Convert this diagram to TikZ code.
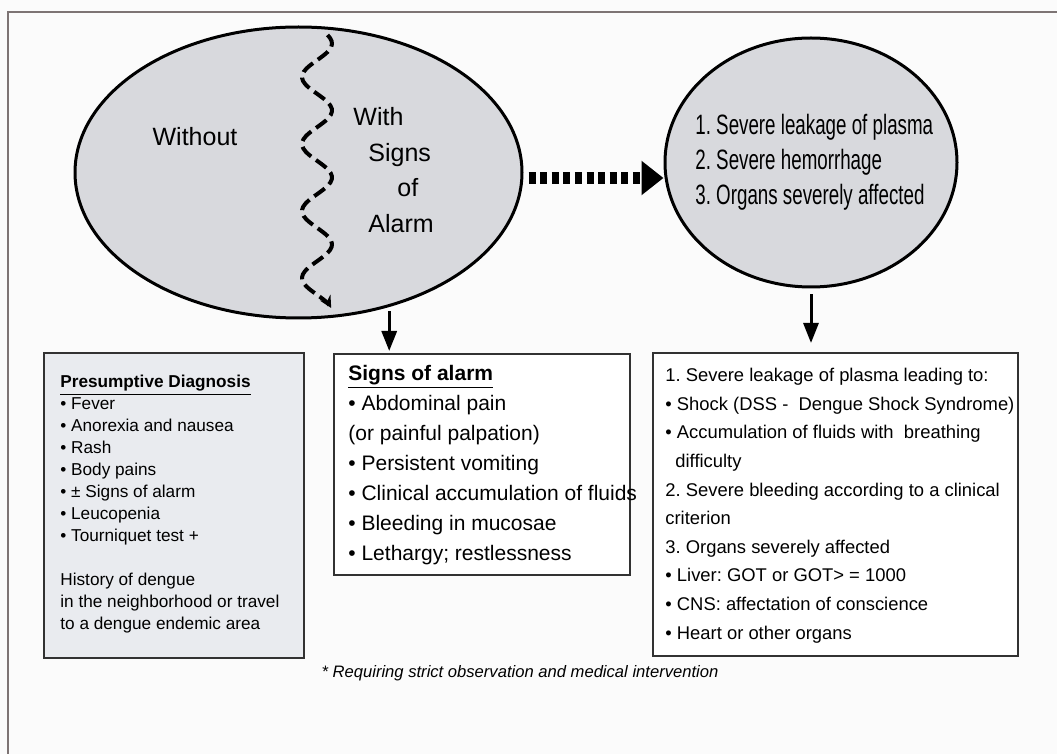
\documentclass[tikz,border=0pt]{standalone}
\usepackage{fontspec}
\setmainfont{Liberation Sans}
\newfontfamily\narrowfont[FakeStretch=0.67]{Liberation Sans}
\usetikzlibrary{positioning,arrows.meta,shapes.geometric}
\definecolor{Oval}{RGB}{216,217,221}
\definecolor{Pale}{RGB}{233,235,239}
\definecolor{Frame}{RGB}{125,116,116}
\definecolor{Edge}{RGB}{50,50,50}
\definecolor{Paper}{RGB}{251,251,251}
\frenchspacing

\begin{document}
\begin{tikzpicture}[x=.5pt,y=-.5pt,
 ov/.style={ellipse,draw,line width=1.5pt,fill=Oval,inner sep=0pt},
 bx/.style={draw=Edge,line width=1pt,anchor=north west,inner sep=0pt},
 tx/.style={anchor=north west,align=left,inner sep=0pt},
 ar/.style={-{Triangle[length=10pt,width=7.5pt]},line width=1.5pt},
 dt/.style={-{Triangle[length=11pt,width=16.5pt]},line width=6pt,dash pattern=on 3.5pt off 2.3pt},
 wv/.style={-{Stealth[length=6pt,width=6pt]},line width=2pt,dash pattern=on 6.5pt off 3pt}]
\useasboundingbox (0,0) rectangle (1057,754);
\fill[Paper] (0,0) rectangle (1057,754);
\draw[Frame,line width=1pt] (8,754) -- (8,12) -- (1057,12);
% ovals
\node[ov,minimum width=223.5pt,minimum height=145.5pt] (big) at (298.5,172.5) {};
\node[ov,minimum width=146pt,minimum height=124.5pt] (risk) at (811,162.5) {};
\draw[wv] plot[domain=35:308,samples=90,smooth] ({317-15*cos(5.373*(\x-77))},\x);
\node[font=\fontsize{12.5}{17.8}\selectfont] (without) at (195,137) {Without};
\node[tx,font=\fontsize{12.5}{17.8}\selectfont] (with) at (353,107)
  {With\\\hspace*{7.5pt}Signs\\\hspace*{22pt}of\\\hspace*{7.5pt}Alarm};
\node[tx,font=\narrowfont\fontsize{14}{17.5}\selectfont] (risktxt) at (695,114)
  {1. Severe leakage of plasma\\2. Severe hemorrhage\\3. Organs severely affected};
% boxes
\node[bx,fill=Pale,minimum width=130pt,minimum height=152.5pt] (diag) at (43,352) {};
\node[bx,fill=white,minimum width=148pt,minimum height=110.5pt] (sig) at (333,353) {};
\node[bx,fill=white,minimum width=182.5pt,minimum height=151.5pt] (sev) at (652,352) {};
\node[tx,font=\fontsize{8.6}{11}\selectfont] (diagtxt) at (60,375)
  {\underline{\textbf{Presumptive Diagnosis}}\\
   • Fever\\• Anorexia and nausea\\• Rash\\• Body pains\\• ± Signs of alarm\\
   • Leucopenia\\• Tourniquet test +\\[11pt]
   History of dengue\\in the neighborhood or travel\\to a dengue endemic area};
\node[tx,font=\fontsize{10.5}{15}\selectfont] (sigtxt) at (348,365)
  {\underline{\textbf{Signs of alarm}}\\
   • Abdominal pain\\(or painful palpation)\\• Persistent vomiting\\
   • Clinical accumulation of fluids\\• Bleeding in mucosae\\• Lethargy; restlessness};
\node[tx,font=\fontsize{9.2}{14.3}\selectfont] (sevtxt) at (665,368)
  {1. Severe leakage of plasma leading to:\\
   • Shock (DSS - \ Dengue Shock Syndrome)\\
   • Accumulation of fluids with \ breathing\\
   \hspace*{5pt}difficulty\\
   2. Severe bleeding according to a clinical\\criterion\\
   3. Organs severely affected\\
   • Liver: GOT or GOT> = 1000\\
   • CNS: affectation of conscience\\
   • Heart or other organs};
\node[font=\itshape\fontsize{8.3}{10}\selectfont] (note) at (520,673)
  {* Requiring strict observation and medical intervention};
% arrows
\draw[dt,shorten <=2.5pt] ([yshift=-2.75pt]big.east) -- ([yshift=-7.75pt]risk.west);
\draw[ar,shorten <=2pt,shorten >=1pt] (big.-56) -- (big.-56 |- sig.north);
\draw[ar,shorten <=3pt,shorten >=4.5pt] (risk.south) -- (risk.south |- sev.north);
\end{tikzpicture}
\end{document}
